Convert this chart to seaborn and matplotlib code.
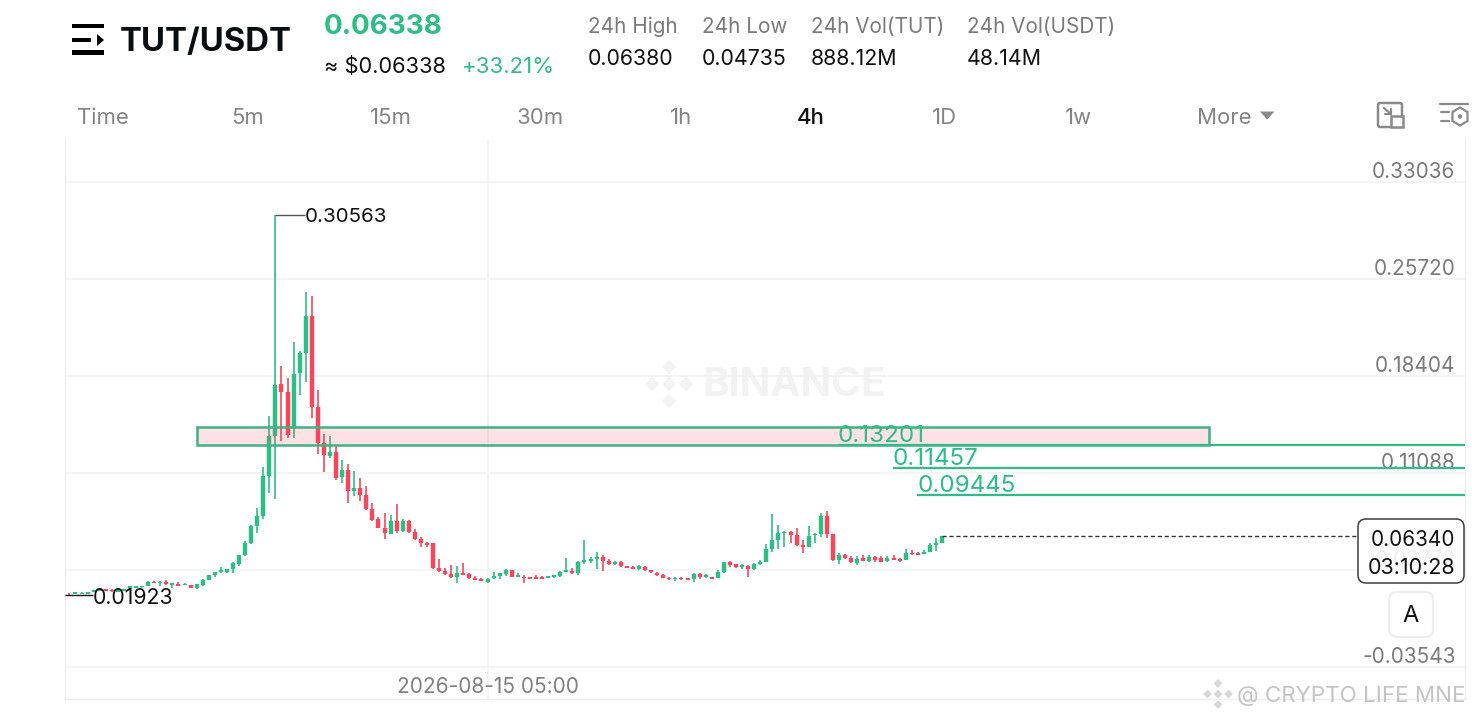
import numpy as np
import pandas as pd
import seaborn as sns
import matplotlib.pyplot as plt
from matplotlib.patches import FancyBboxPatch, Rectangle, Polygon, Circle

# Candle values
opens = [
    .0199, .0196, .0196, .0197, .0211, .0221, .0232, .0229, .0211, .0219,
    .0238, .0245, .0246, .0259, .0290, .0277, .0287, .0266, .0272, .0264,
    .0264, .0238, .0264, .0302, .0337, .0360, .0364, .0387, .0420, .0490,
    .0579, .0709, .0784, .1086, .1388, .1777, .1722, .1446, .1860, .2011,
    .2292, .1604, .1333, .1239, .1265, .1075, .1131, .0975, .0993, .0943,
    .0837, .0760, .0692, .0649, .0749, .0671, .0744, .0666, .0611, .0579,
    .0579, .0390, .0370, .0347, .0322, .0352, .0345, .0317, .0309, .0289,
    .0317, .0330, .0349, .0375, .0324, .0327, .0324, .0324, .0324, .0319,
    .0322, .0332, .0364, .0372, .0352, .0438, .0445, .0462, .0478, .0443,
    .0425, .0440, .0405, .0402, .0387, .0402, .0375, .0357, .0340, .0319,
    .0307, .0319, .0315, .0307, .0347, .0324, .0324, .0319, .0362, .0438,
    .0420, .0402, .0410, .0383, .0420, .0438, .0533, .0603, .0658, .0666,
    .0643, .0563, .0553, .0639, .0646, .0787, .0649, .0450, .0490, .0470,
    .0432, .0465, .0447, .0473, .0468, .0445, .0470, .0458, .0453, .0505,
    .0508, .0498, .0513, .0566, .0579,
]
highs = [
    .0204, .0210, .0209, .0210, .0228, .0240, .0236, .0232, .0229, .0237,
    .0256, .0259, .0260, .0291, .0296, .0294, .0304, .0280, .0283, .0276,
    .0266, .0275, .0308, .0342, .0362, .0398, .0385, .0438, .0490, .0596,
    .0717, .0842, .1152, .1538, .30563, .1918, .1823, .2099, .2031, .2476,
    .2443, .1734, .1400, .1390, .1312, .1207, .1176, .1126, .1069, .1013,
    .0885, .0779, .0809, .0792, .0873, .0760, .0754, .0686, .0624, .0585,
    .0580, .0462, .0390, .0413, .0407, .0428, .0352, .0332, .0319, .0319,
    .0360, .0357, .0385, .0377, .0355, .0340, .0327, .0340, .0334, .0334,
    .0340, .0370, .0465, .0395, .0445, .0601, .0473, .0511, .0490, .0458,
    .0443, .0445, .0411, .0405, .0415, .0404, .0377, .0360, .0347, .0321,
    .0321, .0321, .0317, .0352, .0355, .0347, .0328, .0377, .0440, .0447,
    .0425, .0420, .0415, .0428, .0453, .0571, .0799, .0714, .0671, .0674,
    .0692, .0603, .0709, .0658, .0809, .0824, .0651, .0503, .0498, .0481,
    .0485, .0493, .0488, .0485, .0483, .0483, .0490, .0465, .0533, .0528,
    .0513, .0528, .0583, .0619, .0636,
]
lows = [
    .01923, .0195, .0195, .0196, .0208, .0219, .0217, .0214, .0208, .0217,
    .0236, .0243, .0244, .0257, .0277, .0257, .0264, .0245, .0257, .0262,
    .0238, .0232, .0257, .0300, .0327, .0352, .0357, .0352, .0410, .0485,
    .0571, .0654, .0760, .0956, .0910, .1350, .1375, .1370, .1697, .1797,
    .1526, .1252, .1118, .1224, .1056, .1035, .0880, .0935, .0900, .0830,
    .0749, .0692, .0609, .0645, .0654, .0662, .0658, .0606, .0553, .0548,
    .0388, .0364, .0337, .0317, .0281, .0337, .0313, .0302, .0292, .0279,
    .0307, .0309, .0334, .0322, .0322, .0281, .0307, .0307, .0307, .0317,
    .0320, .0327, .0362, .0349, .0342, .0425, .0432, .0387, .0367, .0413,
    .0417, .0398, .0389, .0385, .0375, .0373, .0358, .0335, .0317, .0305,
    .0297, .0305, .0300, .0289, .0312, .0319, .0306, .0317, .0357, .0402,
    .0395, .0387, .0327, .0375, .0417, .0435, .0515, .0533, .0553, .0579,
    .0558, .0508, .0548, .0579, .0628, .0616, .0448, .0420, .0458, .0432,
    .0417, .0445, .0440, .0438, .0435, .0441, .0453, .0440, .0450, .0492,
    .0488, .0495, .0511, .0523, .0578,
]
closes = [
    .0194, .0208, .0207, .0208, .0226, .0236, .0219, .0217, .0226, .0234,
    .0253, .0257, .0257, .0289, .0279, .0289, .0268, .0279, .0260, .0274,
    .0241, .0271, .0305, .0340, .0360, .0377, .0383, .0428, .0488, .0579,
    .0709, .0784, .1086, .1388, .1772, .1722, .1395, .1857, .2011, .2292,
    .1609, .1337, .1244, .1265, .1069, .1131, .0975, .0993, .0943, .0837,
    .0754, .0696, .0654, .0749, .0671, .0744, .0664, .0611, .0583, .0566,
    .0390, .0370, .0347, .0322, .0352, .0340, .0315, .0304, .0294, .0309,
    .0330, .0355, .0375, .0324, .0337, .0315, .0309, .0309, .0309, .0332,
    .0337, .0362, .0375, .0352, .0440, .0455, .0458, .0475, .0447, .0425,
    .0438, .0405, .0392, .0387, .0407, .0375, .0361, .0337, .0319, .0307,
    .0319, .0307, .0302, .0347, .0322, .0337, .0309, .0362, .0438, .0417,
    .0402, .0415, .0387, .0422, .0438, .0533, .0603, .0654, .0666, .0643,
    .0563, .0548, .0634, .0651, .0787, .0646, .0450, .0488, .0468, .0435,
    .0462, .0447, .0478, .0453, .0438, .0470, .0455, .0443, .0505, .0496,
    .0490, .0515, .0563, .0579, .0634,
]

# Price axis, levels
price_ticks = [0.33036, 0.25720, 0.18404, 0.11088, 0.03772, -0.03543]
tick_labels = ["0.33036", "0.25720", "0.18404", "0.11088", "0.03772", "-0.03543"]
levels = [0.13201, 0.11457, 0.09445]
level_labels = ["0.13201", "0.11457", "0.09445"]
level_start = [126.8, 135.9, 139.9]
zone_low, zone_high = 0.1320, 0.1456
last_price = 0.06340
max_price, min_price = 0.30563, 0.01923

GREEN = "#2EBD85"
RED = "#F6465D"
GRAY = "#848E9C"
W, H = 1472, 720

sns.set_theme(style="white")
plt.rcParams["font.family"] = ["Inter", "DejaVu Sans"]

fig = plt.figure(figsize=(W / 100, H / 100), dpi=100, facecolor="white")
# main chart area is x 65..1465, y 140..699 in pixels
ax = fig.add_axes([65 / W, 1 - 699 / H, 1400 / W, 559 / H])
ax.set_facecolor("none")

n = len(opens)
df = pd.DataFrame({"candle": range(n), "open": opens, "high": highs, "low": lows, "close": closes})
df["side"] = np.where(df["close"] >= df["open"], "up", "down")
pal = {"up": GREEN, "down": RED}

wicks = df.melt(id_vars=["candle", "side"], value_vars=["high", "low"], value_name="price")
bodies = df.melt(id_vars=["candle", "side"], value_vars=["open", "close"], value_name="price")

sns.lineplot(data=wicks, x="candle", y="price", units="candle", hue="side", palette=pal,
             estimator=None, sort=False, legend=False, linewidth=1.4, alpha=0.85,
             solid_capstyle="butt", ax=ax, zorder=3)
sns.lineplot(data=bodies, x="candle", y="price", units="candle", hue="side", palette=pal,
             estimator=None, sort=False, legend=False, linewidth=3.2,
             solid_capstyle="butt", ax=ax, zorder=4)

ax.set_xlim(-0.726, 230.3)
ax.set_ylim(-0.05958, 0.36204)
ax.set_xlabel("")
ax.set_ylabel("")
ax.set_yticks(price_ticks)
ax.set_xticks([69.0])
ax.tick_params(left=False, right=False, bottom=False, labelleft=False, labelbottom=False)
ax.grid(True, color="#F1F2F3", linewidth=1.2)
ax.set_axisbelow(True)
for s in ax.spines.values():
    s.set_color("#EEEEEE")
    s.set_linewidth(1.0)
ax.spines["top"].set_visible(False)

for val, lab in zip(price_ticks, tick_labels):
    ax.annotate(lab, xy=(1, val), xycoords=("axes fraction", "data"), xytext=(-6.8, 7.4),
                textcoords="offset points", ha="right", va="center", fontsize=14.9, color="#7A7A7A")

# date under the vertical gridline
ax.annotate("2026-08-15 05:00", xy=(69.0, 0), xycoords=("data", "axes fraction"), xytext=(0, 8.7),
            textcoords="offset points", ha="center", va="center", fontsize=15, color="#808080")

# resistance zone and target levels
ax.add_patch(Rectangle((21.06, zone_low), 167.0, zone_high - zone_low, facecolor=RED, alpha=0.16,
                       edgecolor="none", zorder=5))
ax.add_patch(Rectangle((21.06, zone_low), 167.0, zone_high - zone_low, facecolor="none",
                       edgecolor="#3DB384", linewidth=1.8, zorder=5))
for lv, lab, st in zip(levels, level_labels, level_start):
    ax.hlines(lv, st, 230.3, color=GREEN, linewidth=1.6, zorder=5)
    ax.annotate(lab, xy=(st, lv), xytext=(0, 6.6), textcoords="offset points", ha="left", va="center",
                fontsize=17.4, color=GREEN, zorder=6)

# highest / lowest markers
ax.hlines(max_price, 34, 38.9, color="#555555", linewidth=1.0, zorder=5)
ax.text(38.9, max_price - 0.0015, "0.30563", va="center", ha="left", fontsize=14.8, color="#111111", zorder=6)
ax.hlines(min_price, -0.7, 3.9, color="#111111", linewidth=1.0, zorder=5)
ax.text(3.9, min_price - 0.0023, "0.01923", va="center", ha="left", fontsize=15.3, color="#111111", zorder=6)

# last price line
ax.hlines(last_price, 144, 212.6, color="#333333", linewidth=1.0, linestyles=(0, (3, 2)), zorder=5)

# interface overlay in pixel coordinates
ui = fig.add_axes([0, 0, 1, 1], zorder=5)
ui.set_xlim(0, W)
ui.set_ylim(H, 0)
ui.axis("off")

# menu icon
for y0, y1, x1 in [(24.3, 28.3, 104), (37.7, 42.3, 91), (50, 55, 104)]:
    ui.add_patch(Rectangle((72, y0), x1 - 72, y1 - y0, color="black", lw=0))
ui.add_patch(Polygon([(97, 34), (104, 40), (97, 46)], color="black", lw=0))

ui.text(120, 42.5, "TUT/USDT", fontsize=23.7, fontweight="bold", color="#0B0E11", va="center")
ui.text(324, 27.5, "0.06338", fontsize=20, fontweight="bold", color=GREEN, va="center")
ui.text(324, 67, "≈ $0.06338", fontsize=15.7, color="#111111", va="center")
ui.text(462, 67, "+33.21%", fontsize=16, color=GREEN, va="center")

stat_x = [588, 702, 811, 967]
stat_names = ["24h High", "24h Low", "24h Vol(TUT)", "24h Vol(USDT)"]
stat_vals = ["0.06380", "0.04735", "888.12M", "48.14M"]
for x, nm, v in zip(stat_x, stat_names, stat_vals):
    ui.text(x, 27, nm, fontsize=14.9, color="#7A7A7A", va="center")
    ui.text(x, 59, v, fontsize=15.4, color="#111111", va="center")

tab_x = [103, 247.5, 390.5, 540.5, 681, 810.5, 944.5, 1078, 1224.5]
tab_names = ["Time", "5m", "15m", "30m", "1h", "4h", "1D", "1w", "More"]
for x, nm in zip(tab_x, tab_names):
    active = nm == "4h"
    ui.text(x, 118, nm, fontsize=15.9, color="#111111" if active else "#848484", ha="center", va="center",
            fontweight="medium" if active else "normal")
ui.add_patch(Polygon([(1260, 111.5), (1274.5, 111.5), (1267, 119.5)], color="#8A8A8A", lw=0))

# layout icons top right
ui.add_patch(FancyBboxPatch((1378, 103), 24, 24, boxstyle="round,pad=0,rounding_size=2", fc="none", ec="#8A8A8A", lw=1.8))
ui.add_patch(Rectangle((1391, 116), 12, 11, fc="white", ec="#8A8A8A", lw=1.8))
ui.plot([1384, 1391], [108, 114], color="#8A8A8A", lw=1.6)
ui.plot([1391, 1391, 1385], [108.5, 114, 114], color="#8A8A8A", lw=1.6)
ui.plot([1440, 1468], [103.5, 103.5], color="#8A8A8A", lw=1.6)
ui.plot([1441, 1449], [112, 112], color="#8A8A8A", lw=1.6)
ui.plot([1441, 1449], [121, 121], color="#8A8A8A", lw=1.6)
ui.add_patch(Polygon([(1460, 107.5), (1467.5, 112), (1467.5, 121), (1460, 125.5), (1452.5, 121), (1452.5, 112)],
                     fc="none", ec="#8A8A8A", lw=1.6))
ui.add_patch(Circle((1460, 116.5), 2.2, color="#8A8A8A", lw=0))

# watermarks
def diamond(cx, cy, r, col):
    s = r * 0.42
    for dx, dy in [(0, -r), (r, 0), (0, r), (-r, 0), (0, 0)]:
        ui.add_patch(Polygon([(cx + dx, cy + dy - s), (cx + dx + s, cy + dy), (cx + dx, cy + dy + s), (cx + dx - s, cy + dy)],
                             color=col, lw=0))

diamond(669, 384, 17, "#F3F3F3")
ui.text(794, 386, "BINANCE", fontsize=29, fontweight="bold", color="#F2F2F2", ha="center", va="center", zorder=0)
diamond(1218, 694, 10.5, "#D8D8D8")
ui.text(1237, 696, "@ CRYPTO LIFE MNE", fontsize=16.1, color="#C4C4C4", ha="left", va="center")

# last price tag
ui.add_patch(FancyBboxPatch((1358, 519), 106, 64, boxstyle="round,pad=0,rounding_size=8", fc="white", ec="#222222",
                            lw=1.1, alpha=0.87, zorder=3))
ui.text(1455, 540, "0.06340", fontsize=14.9, color="#111111", ha="right", va="center", zorder=4)
ui.text(1455, 568, "03:10:28", fontsize=15.5, color="#111111", ha="right", va="center", zorder=4)

# auto scale button
ui.add_patch(FancyBboxPatch((1389, 592), 44, 45, boxstyle="round,pad=0,rounding_size=8", fc="white", ec="#EEEEEE", lw=1.5))
ui.text(1411, 616, "A", fontsize=17, color="#111111", ha="center", va="center")

fig.savefig("out.png", dpi=100)
